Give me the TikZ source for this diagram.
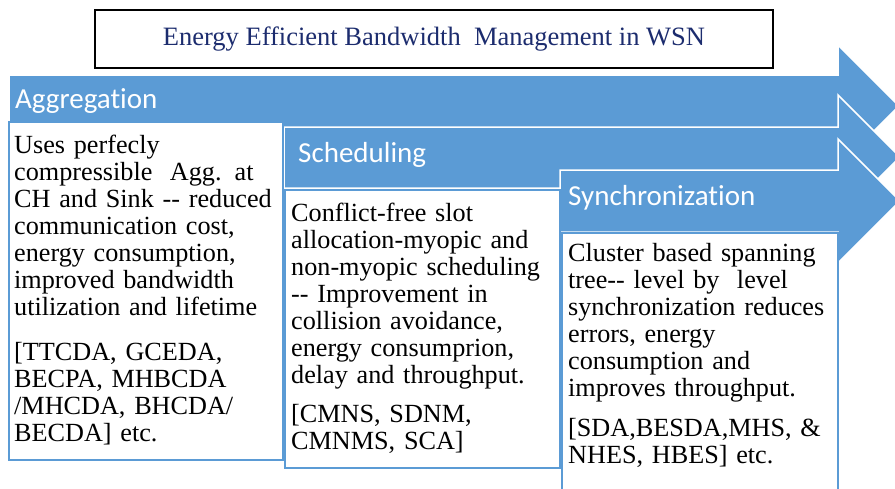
\documentclass[tikz,border=0pt]{standalone}
\usepackage{fontspec}
\setmainfont{Liberation Serif}
\newfontfamily\calib[Ligatures={NoCommon}]{Carlito}
\definecolor{ablue}{RGB}{91,155,213}
\definecolor{navy}{RGB}{28,44,110}
\begin{document}
\begin{tikzpicture}[x=1pt,y=-1pt,
  arrowshape/.style={fill=ablue,draw=white,line width=1.5pt,line join=miter},
  textbox/.style={fill=white,draw=ablue,line width=2pt},
  arrlabel/.style={font=\calib\fontsize{29}{31}\selectfont,text=white,anchor=base west,inner sep=0pt},
  body/.style={font=\fontsize{26.2}{27}\selectfont,anchor=base west,inner sep=0pt,align=left,text width=#1},
  ]
\useasboundingbox (0,0) rectangle (895,488);
\clip (0,0) rectangle (895,488);
% title
\node[draw=black,line width=2pt,minimum width=678pt,minimum height=58pt,inner sep=0pt,
      text=navy,font=\fontsize{26.5}{28}\selectfont] (title) at (434,39)
  {Energy Efficient Bandwidth\ \ Management in WSN};
% arrows
\draw[arrowshape] (9,75) -- (838,75) -- (838,45) -- (899,106) -- (838,167) -- (838,137) -- (9,137) -- cycle;
\node[arrlabel] (lab1) at (15,108) {Aggregation};
\draw[arrowshape] (284,127) -- (838,127) -- (838,95) -- (900,157) -- (838,219) -- (838,188) -- (284,188) -- cycle;
\node[arrlabel] (lab2) at (298,162) {Scheduling};
\draw[arrowshape] (560,170) -- (838,170) -- (838,139) -- (900,201) -- (838,263) -- (838,232) -- (560,232) -- cycle;
\node[arrlabel] (lab3) at (568,205) {Synchronization};
% boxes
\draw[textbox] (9,122) rectangle (283,460);
\draw[textbox] (285,190) rectangle (560,468);
\draw[textbox] (562,233) rectangle (838,500);
% texts
\node[body=270pt] (t1) at (14,153) {Uses perfecly\\compressible\ \ Agg. at\\CH and Sink -{}- reduced\\communication cost,\\energy consumption,\\improved bandwidth\\utilization and lifetime\\[18pt]{[}TTCDA, GCEDA,\\BECPA, MHBCDA\\/MHCDA, BHCDA/\\BECDA] etc.};
\node[body=270pt] (t2) at (291,221) {Conflict-free slot\\allocation-myopic and\\non-myopic scheduling\\-{}- Improvement in\\collision avoidance,\\energy consumprion,\\delay and throughput.\\[12pt]{[}CMNS, SDNM,\\CMNMS, SCA]};
\node[body=270pt] (t3) at (568,261) {Cluster based spanning\\tree-{}- level by\ \ level\\synchronization reduces\\errors, energy\\consumption and\\improves throughput.\\[13pt]{[}SDA,BESDA,MHS, \&\\NHES, HBES] etc.};
\end{tikzpicture}
\end{document}
